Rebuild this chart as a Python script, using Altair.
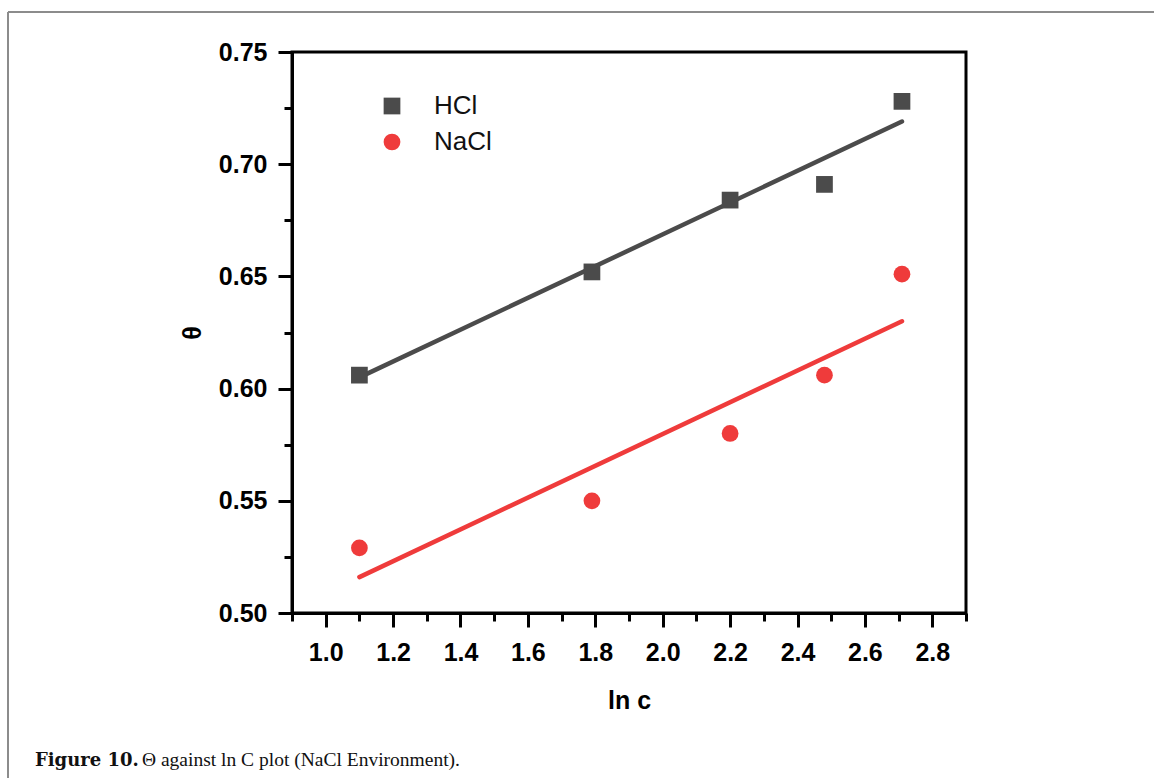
import altair as alt
import pandas as pd

# ---- data ----
ln_c = [1.10, 1.79, 2.20, 2.48, 2.71]
theta_hcl = [0.606, 0.652, 0.684, 0.691, 0.728]
theta_nacl = [0.529, 0.550, 0.580, 0.606, 0.651]

fit_x = [1.10, 2.71]
fit_hcl = [0.605, 0.719]
fit_nacl = [0.516, 0.630]

series = ["HCl", "NaCl"]
colors = ["#4b4b4b", "#ef3b3b"]
shapes = ["square", "circle"]

x_ticks = [0.9, 1.0, 1.1, 1.2, 1.3, 1.4, 1.5, 1.6, 1.7, 1.8, 1.9, 2.0,
           2.1, 2.2, 2.3, 2.4, 2.5, 2.6, 2.7, 2.8, 2.9]
y_ticks = [0.5, 0.525, 0.55, 0.575, 0.6, 0.625, 0.65, 0.675, 0.7, 0.725, 0.75]

caption_bold = "Figure 10."
caption_rest = "Θ against ln C plot (NaCl Environment)."

pts = pd.DataFrame(
    {"x": ln_c * 2,
     "y": theta_hcl + theta_nacl,
     "s": ["HCl"] * len(ln_c) + ["NaCl"] * len(ln_c)}
)
fit_h = pd.DataFrame({"x": fit_x, "y": fit_hcl})
fit_n = pd.DataFrame({"x": fit_x, "y": fit_nacl})

W, H = 674, 561
PL, PT = 292, 52

FONT = "Liberation Sans"

x_scale = alt.Scale(domain=[0.9, 2.9], nice=False, zero=False)
y_scale = alt.Scale(domain=[0.5, 0.75], nice=False, zero=False)
col_scale = alt.Scale(domain=series, range=colors)
shp_scale = alt.Scale(domain=series, range=shapes)


def x_axis():
    return alt.Axis(
        values=x_ticks,
        labelExpr="round(datum.value*10) % 2 == 0 ? format(datum.value, '.1f') : ''",
        tickSize={"condition": {"test": "round(datum.value*10) % 2 == 0", "value": 14}, "value": 8},
        title="ln c",
        grid=False,
        labelOverlap=False,
        labelFlush=False,
        labelPadding=13,
        titlePadding=23,
    )


def y_axis():
    return alt.Axis(
        values=y_ticks,
        labelExpr="round(datum.value*1000) % 50 == 0 ? format(datum.value, '.2f') : ''",
        tickSize={"condition": {"test": "round(datum.value*1000) % 50 == 0", "value": 14}, "value": 8},
        title="θ",
        grid=False,
        labelOverlap=False,
        labelFlush=False,
        labelPadding=11,
        titlePadding=13,
    )


def legend():
    return alt.Legend(
        title=None, orient="none", legendX=87, legendY=41,
        labelFontSize=26, labelFont=FONT, labelColor="#111",
        symbolSize=280, symbolStrokeWidth=0, rowPadding=10,
        labelOffset=29, padding=0,
    )


line_h = alt.Chart(fit_h).mark_line(strokeWidth=4.5, strokeCap="round", color=colors[0]).encode(
    x=alt.X("x:Q", scale=x_scale, axis=x_axis()),
    y=alt.Y("y:Q", scale=y_scale, axis=y_axis()),
)
line_n = alt.Chart(fit_n).mark_line(strokeWidth=4.5, strokeCap="round", color=colors[1]).encode(
    x=alt.X("x:Q", scale=x_scale, axis=x_axis()),
    y=alt.Y("y:Q", scale=y_scale, axis=y_axis()),
)

points = alt.Chart(pts).mark_point(filled=True, size=280, opacity=1).encode(
    x=alt.X("x:Q", scale=x_scale, axis=x_axis()),
    y=alt.Y("y:Q", scale=y_scale, axis=y_axis()),
    color=alt.Color("s:N", scale=col_scale, legend=legend()),
    shape=alt.Shape("s:N", scale=shp_scale, legend=legend()),
)

# figure frame (top and left edges visible) and caption
frame_top = alt.Chart(pd.DataFrame({"a": [0]})).mark_rule(color="#8c8c8c", strokeWidth=2).encode(
    x=alt.value(8 - PL), x2=alt.value(1160 - PL), y=alt.value(12 - PT)
)
frame_left = alt.Chart(pd.DataFrame({"a": [0]})).mark_rule(color="#8c8c8c", strokeWidth=2).encode(
    x=alt.value(8 - PL), y=alt.value(12 - PT), y2=alt.value(790 - PT)
)
cap1 = alt.Chart(pd.DataFrame({"t": [caption_bold]})).mark_text(
    align="left", baseline="alphabetic", font="DejaVu Serif", fontSize=18,
    fontWeight="bold", color="#111"
).encode(x=alt.value(35 - PL), y=alt.value(766 - PT), text="t:N")
cap2 = alt.Chart(pd.DataFrame({"t": [caption_rest]})).mark_text(
    align="left", baseline="alphabetic", font="Liberation Serif", fontSize=19.5,
    color="#111"
).encode(x=alt.value(142 - PL), y=alt.value(766 - PT), text="t:N")

chart = alt.layer(line_h, line_n, points, frame_top, frame_left, cap1, cap2).properties(
    width=W, height=H,
    background="white",
    autosize=alt.AutoSizeParams(type="none"),
    padding={"left": PL, "top": PT, "right": 1154 - PL - W, "bottom": 778 - PT - H},
).configure_view(
    stroke="black", strokeWidth=3
).configure_axis(
    domainColor="black", domainWidth=3, tickColor="black", tickWidth=3,
    labelFont=FONT, labelFontSize=25, labelFontWeight="bold", labelColor="black",
    titleFont=FONT, titleFontSize=25, titleFontWeight="bold", titleColor="black",
)

chart.save("out.html", embed_options={"renderer": "svg", "actions": False})
